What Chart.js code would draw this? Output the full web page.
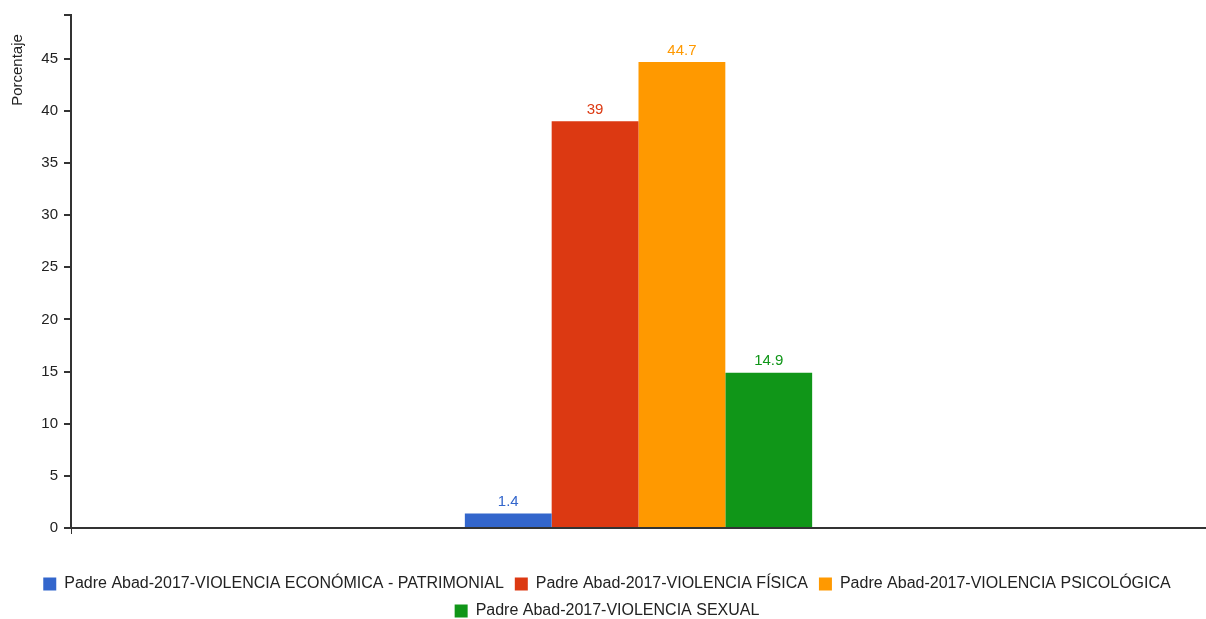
<!DOCTYPE html>
<html>
<head>
<meta charset="utf-8">
<script src="https://cdn.jsdelivr.net/npm/chart.js@4"></script>
<style>
  html, body { margin: 0; padding: 0; background: #fff; }
  #wrap { width: 1206px; height: 619px; }
</style>
</head>
<body>
<div id="wrap"><canvas id="grafico"></canvas></div>
<script>
const categorias = [""]
const series = [
  "Padre Abad-2017-VIOLENCIA ECONÓMICA - PATRIMONIAL",
  "Padre Abad-2017-VIOLENCIA FÍSICA",
  "Padre Abad-2017-VIOLENCIA PSICOLÓGICA",
  "Padre Abad-2017-VIOLENCIA SEXUAL",
]
const valores = [1.4, 39, 44.7, 14.9]
const colores = ["#3366cc", "#dc3912", "#ff9900", "#109618"]
const ticksY = [0, 5, 10, 15, 20, 25, 30, 35, 40, 45]
const tituloY = "Porcentaje"

const fuente = "'Liberation Sans', Arial, sans-serif"

// etiquetas de valor encima de cada barra + titulo del eje y
const etiquetas = {
  id: "etiquetas",
  afterDatasetsDraw(chart) {
    const ctx = chart.ctx
    ctx.save()
    ctx.font = "15px " + fuente
    ctx.textAlign = "center"
    ctx.textBaseline = "bottom"
    chart.data.datasets.forEach((ds, i) => {
      chart.getDatasetMeta(i).data.forEach((bar, j) => {
        ctx.fillStyle = ds.backgroundColor
        ctx.fillText(String(ds.data[j]), bar.x, bar.y - 4)
      })
    })
    ctx.translate(18, 70)
    ctx.rotate(-Math.PI / 2)
    ctx.textBaseline = "middle"
    ctx.fillStyle = "#222"
    ctx.fillText(tituloY, 0, 0)
    ctx.restore()
  },
}

let chart = new Chart(document.getElementById("grafico").getContext("2d"), {
  type: "bar",
  data: {
    labels: categorias,
    datasets: series.map((nombre, i) => ({
      label: nombre,
      data: [valores[i]],
      backgroundColor: colores[i],
      borderWidth: 0,
    })),
  },
  options: {
    responsive: true,
    maintainAspectRatio: false,
    animation: false,
    categoryPercentage: 0.306,
    barPercentage: 1,
    layout: {
      padding: { left: 0, right: -8, top: 15, bottom: -10 },
    },
    plugins: {
      legend: {
        position: "bottom",
        labels: {
          boxWidth: 13,
          boxHeight: 13,
          padding: 11,
          color: "#222",
          font: { family: fuente, size: 16 },
        },
      },
      tooltip: { enabled: false },
    },
    scales: {
      x: {
        afterFit: (scale) => {
          scale.height = 37
        },
        grid: {
          drawOnChartArea: false,
          tickLength: 6,
          color: (c) => (c.index === 0 ? "#333" : "rgba(0,0,0,0)"),
        },
        border: { color: "#333", width: 2 },
        ticks: { display: false },
      },
      y: {
        min: 0,
        max: 49.2,
        afterBuildTicks: (axis) => {
          axis.ticks = ticksY.map((v) => ({ value: v })).concat([{ value: 49.2 }])
        },
        afterFit: (scale) => {
          scale.width = 71
        },
        grid: {
          drawOnChartArea: false,
          tickLength: 7,
          color: "#333",
          lineWidth: 2,
        },
        border: { color: "#333", width: 2 },
        ticks: {
          color: "#222",
          font: { family: fuente, size: 15 },
          padding: 6,
          callback: (v) => (ticksY.includes(v) ? v : ""),
        },
      },
    },
  },
  plugins: [etiquetas],
})
</script>
</body>
</html>
